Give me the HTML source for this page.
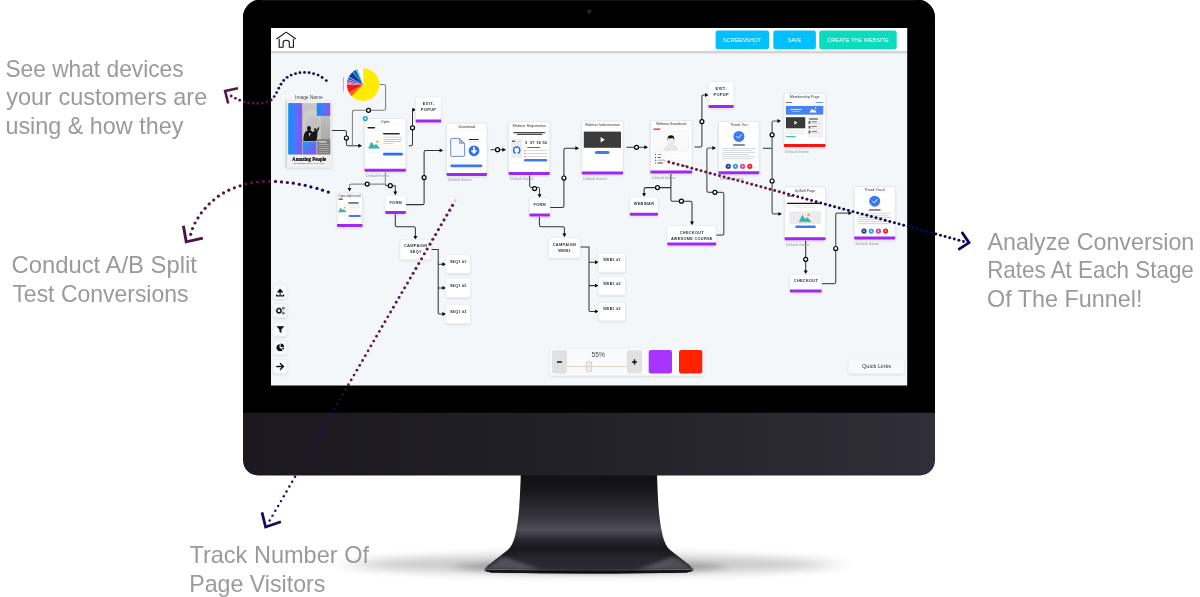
<!DOCTYPE html>
<html lang="en"><head><meta charset="utf-8"><title>Funnel builder</title>
<style>html,body{margin:0;padding:0;background:#fff}body{width:1200px;height:597px;overflow:hidden}svg{display:block;will-change:transform}text{font-family:'Liberation Sans', sans-serif;}</style>
</head><body>
<svg width="1200" height="597" viewBox="0 0 1200 597">
<defs>
<filter id="cs" x="-20%" y="-20%" width="140%" height="140%"><feGaussianBlur in="SourceAlpha" stdDeviation="0.9"/><feOffset dy="0.5"/><feComponentTransfer><feFuncA type="linear" slope="0.13"/></feComponentTransfer><feMerge><feMergeNode/><feMergeNode in="SourceGraphic"/></feMerge></filter>
<filter id="blur8" x="-20%" y="-200%" width="140%" height="500%"><feGaussianBlur stdDeviation="16 4.2"/></filter>
<filter id="blur3" x="-20%" y="-200%" width="140%" height="500%"><feGaussianBlur stdDeviation="7 2.4"/></filter>
<filter id="soft" x="-30%" y="-60%" width="160%" height="220%"><feGaussianBlur stdDeviation="3.2 1.6"/></filter>
<linearGradient id="chin" x1="0" y1="0" x2="1" y2="0"><stop offset="0" stop-color="#1b191f"/><stop offset="0.45" stop-color="#222027"/><stop offset="1" stop-color="#302e36"/></linearGradient>
<linearGradient id="neck" x1="0" y1="0" x2="0" y2="1"><stop offset="0" stop-color="#121016"/><stop offset="0.16" stop-color="#17151c"/><stop offset="0.45" stop-color="#37353d"/><stop offset="0.56" stop-color="#514f57"/><stop offset="0.66" stop-color="#2a2830"/><stop offset="0.74" stop-color="#1a181f"/><stop offset="0.85" stop-color="#28262d"/><stop offset="1" stop-color="#2f2d34"/></linearGradient>
<linearGradient id="neckx" x1="0" y1="0" x2="1" y2="0"><stop offset="0" stop-color="#000" stop-opacity="0.35"/><stop offset="0.18" stop-color="#000" stop-opacity="0"/><stop offset="0.82" stop-color="#000" stop-opacity="0"/><stop offset="1" stop-color="#000" stop-opacity="0.35"/></linearGradient>
<linearGradient id="rim" x1="0" y1="0" x2="1" y2="0"><stop offset="0" stop-color="#7a7880"/><stop offset="0.25" stop-color="#4e4c53"/><stop offset="0.5" stop-color="#39373d"/><stop offset="0.75" stop-color="#4e4c53"/><stop offset="1" stop-color="#7a7880"/></linearGradient>
<linearGradient id="sheenL" x1="0" y1="0" x2="1" y2="0"><stop offset="0" stop-color="#6a686f" stop-opacity="0.55"/><stop offset="1" stop-color="#6a686f" stop-opacity="0"/></linearGradient>
<linearGradient id="sheenR" x1="1" y1="0" x2="0" y2="0"><stop offset="0" stop-color="#6a686f" stop-opacity="0.55"/><stop offset="1" stop-color="#6a686f" stop-opacity="0"/></linearGradient>
<linearGradient id="bp" x1="0" y1="0" x2="1" y2="0"><stop offset="0" stop-color="#0a90ff"/><stop offset="0.5" stop-color="#4b78fb"/><stop offset="1" stop-color="#8f4ff6"/></linearGradient>
<linearGradient id="bp2" x1="0" y1="0" x2="1" y2="1"><stop offset="0" stop-color="#12a0ff"/><stop offset="1" stop-color="#9a45f5"/></linearGradient>
<linearGradient id="photo" x1="0" y1="0" x2="0" y2="1"><stop offset="0" stop-color="#c9c9c9"/><stop offset="1" stop-color="#9f9f9f"/></linearGradient>
<clipPath id="scr"><rect x="271" y="28" width="636.2" height="357.5"/></clipPath>
</defs>
<ellipse cx="592" cy="564.5" rx="240" ry="10" fill="#000" opacity="0.2" filter="url(#blur8)"/>
<ellipse cx="590" cy="567" rx="135" ry="6.5" fill="#000" opacity="0.2" filter="url(#blur3)"/>
<path d="M520.8 474 C520.3 490 519.8 500 519.2 508 C518.4 518 517 528 515.1 535.7 C513.6 541.6 511.6 546.6 507.7 550 L485.4 567.6 Q483 569.5 485.4 571 L491 572.5 Q540 573.5 588.9 573.5 Q637.8 573.5 686.8 572.5 L692.4 571 Q694.8 569.5 692.4 567.6 L670.1 550 C666.2 546.6 664.2 541.6 662.7 535.7 C660.8 528 659.4 518 658.6 508 C658 500 657.5 490 657 474 Z" fill="url(#neck)"/>
<path d="M520.8 474 C520.3 490 519.8 500 519.2 508 C518.4 518 517 528 515.1 535.7 C513.6 541.6 511.6 546.6 507.7 550 L485.4 567.6 Q483 569.5 485.4 571 L491 572.5 Q540 573.5 588.9 573.5 Q637.8 573.5 686.8 572.5 L692.4 571 Q694.8 569.5 692.4 567.6 L670.1 550 C666.2 546.6 664.2 541.6 662.7 535.7 C660.8 528 659.4 518 658.6 508 C658 500 657.5 490 657 474 Z" fill="url(#neckx)"/>
<path d="M484.6 569.6 Q540 570.4 588.9 570.4 Q637.8 570.4 693.2 569.6 Q694.2 570.4 692.4 571 L686.8 572.5 Q637.8 573.5 588.9 573.5 Q540 573.5 491 572.5 L485.4 571 Q483.6 570.4 484.6 569.6 Z" fill="#0f0e12"/>
<path d="M484.4 569.3 Q540 570 588.9 570 Q637.8 570 693.4 569.3" fill="none" stroke="url(#rim)" stroke-width="0.9"/>
<path d="M487 566.6 L484.6 568.6 Q483.4 569.6 484.8 570.6" fill="none" stroke="#c9c8cd" stroke-width="0.8" stroke-linecap="round"/>
<path d="M690.8 566.6 L693.2 568.6 Q694.4 569.6 693 570.6" fill="none" stroke="#c9c8cd" stroke-width="0.8" stroke-linecap="round"/>
<clipPath id="standclip"><path d="M520.8 474 C520.3 490 519.8 500 519.2 508 C518.4 518 517 528 515.1 535.7 C513.6 541.6 511.6 546.6 507.7 550 L485.4 567.6 Q483 569.5 485.4 571 L491 572.5 Q540 573.5 588.9 573.5 Q637.8 573.5 686.8 572.5 L692.4 571 Q694.8 569.5 692.4 567.6 L670.1 550 C666.2 546.6 664.2 541.6 662.7 535.7 C660.8 528 659.4 518 658.6 508 C658 500 657.5 490 657 474 Z"/></clipPath>
<g clip-path="url(#standclip)"><g filter="url(#soft)">
<path d="M503 556 L484 569 L540 569.6 Z" fill="#77757c" opacity="0.55"/>
<path d="M674.8 556 L693.8 569 L637.8 569.6 Z" fill="#77757c" opacity="0.55"/>
</g></g>
<path d="M243 17.5 A18 18 0 0 1 261 -0.5 H917 A18 18 0 0 1 935 17.5 V460.4 A15 15 0 0 1 920 475.4 H258 A15 15 0 0 1 243 460.4 Z" fill="url(#chin)"/>
<path d="M243 17.5 A18 18 0 0 1 261 -0.5 H917 A18 18 0 0 1 935 17.5 V412.8 H243 Z" fill="#000"/>
<path d="M262 0.4 H916" stroke="#161616" stroke-width="1"/>
<circle cx="589.3" cy="11.5" r="2.4" fill="#1a1c20"/><circle cx="589.3" cy="11.5" r="1.1" fill="#1d2f8a"/>
<rect x="271" y="28" width="636.2" height="357.5" rx="0" fill="#f3f7fa" />
<g clip-path="url(#scr)">
<rect x="271" y="28" width="636.2" height="23.4" rx="0" fill="#fff" />
<rect x="271" y="51.4" width="636.2" height="1.3" rx="0" fill="#b8bdc1" />
<rect x="271" y="52.7" width="636.2" height="0.9" rx="0" fill="#dde1e5" />
<path d="M276.9 38.8 L286.2 32.1 L295.5 38.8" fill="none" stroke="#111" stroke-width="1.1" stroke-linecap="round" stroke-linejoin="round"/>
<path d="M279.2 39.4 V47.2 H283.1 V42.6 Q283.1 40.3 286.2 40.3 Q289.3 40.3 289.3 42.6 V47.2 H293.4 V39.4" fill="none" stroke="#111" stroke-width="1.1" stroke-linejoin="round" stroke-linecap="round"/>
<rect x="715.6" y="30.5" width="53.5" height="18.8" rx="2.4" fill="#02bffe" />
<rect x="773.3" y="30.5" width="42.6" height="18.8" rx="2.4" fill="#02bffe" />
<rect x="819.2" y="30.5" width="77.5" height="18.8" rx="2.4" fill="#0bdcbd" />
<text x="742.2" y="41.9" font-size="5.3" fill="#fff" text-anchor="middle" font-weight="normal" textLength="38.4" lengthAdjust="spacingAndGlyphs" >SCREENSHOT</text>
<text x="794.6" y="41.9" font-size="5.3" fill="#fff" text-anchor="middle" font-weight="normal" textLength="13.2" lengthAdjust="spacingAndGlyphs" >SAVE</text>
<text x="858" y="41.9" font-size="5.3" fill="#fff" text-anchor="middle" font-weight="normal" textLength="61.5" lengthAdjust="spacingAndGlyphs" >CREATE THE WEBSITE</text>
<path d="M331.3 130.4L344.7 130.4Q346.4 130.4 346.4 132.1L346.4 144.1Q346.4 145.8 348.1 145.8L359 145.8" fill="none" stroke="#333" stroke-width="1.05" stroke-linejoin="round"/>
<path d="M379.5 84.5L383.9 84.5Q385.6 84.5 385.6 86.2L385.6 108.6Q385.6 110.3 383.9 110.3L354.1 110.3Q352.4 110.3 352.4 112L352.4 145.8" fill="none" stroke="#7d7d7d" stroke-width="1.05" stroke-linejoin="round"/>
<path d="M408.8 145.7L410.8 145.7Q412.5 145.7 412.5 144L412.5 110.45Q412.5 109.7 413.25 109.7L414 109.7" fill="none" stroke="#333" stroke-width="1.05" stroke-linejoin="round"/>
<path d="M385.3 172L385.3 182.4Q385.3 184.1 383.6 184.1L351.2 184.1Q349.5 184.1 349.5 185.8L349.5 189" fill="none" stroke="#8a8a8a" stroke-width="1.05" stroke-linejoin="round"/>
<path d="M385.3 184.1 Q385.3 185.7 387 185.7 H395.3 V192" fill="none" stroke="#333" stroke-width="1.05" stroke-linejoin="round"/>
<path d="M405.8 204.6L422.4 204.6Q424.1 204.6 424.1 202.9L424.1 152.1Q424.1 150.4 425.8 150.4L440 150.4" fill="none" stroke="#333" stroke-width="1.05" stroke-linejoin="round"/>
<path d="M395.3 214L395.3 225.1Q395.3 226.8 397 226.8L413.7 226.8Q415.4 226.8 415.4 228.5L415.4 237.5" fill="none" stroke="#333" stroke-width="1.05" stroke-linejoin="round"/>
<path d="M431.2 249.5 H438.2 V312.8 Q438.2 314 439.4 314 H443 M438.2 264.2 H443 M438.2 287.9 H443" fill="none" stroke="#333" stroke-width="1.05" stroke-linejoin="round"/>
<path d="M490.5 149.7L503 149.7" fill="none" stroke="#333" stroke-width="1.05" stroke-linejoin="round"/>
<path d="M529.7 175 V186.2 Q529.7 187.4 531 187.4 H538.4 Q539.6 187.4 539.6 188.6 V196" fill="none" stroke="#333" stroke-width="1.0" stroke-linejoin="round"/>
<path d="M549.8 207.5L562.2 207.5Q563.9 207.5 563.9 205.8L563.9 149.9Q563.9 148.2 565.6 148.2L576 148.2" fill="none" stroke="#333" stroke-width="1.05" stroke-linejoin="round"/>
<path d="M539.4 216.5L539.4 225.1Q539.4 226.8 541.1 226.8L562.7 226.8Q564.4 226.8 564.4 228.5L564.4 235" fill="none" stroke="#333" stroke-width="1.05" stroke-linejoin="round"/>
<path d="M580.2 247 H589 V310.2 Q589 311.4 590.2 311.4 H596 M589 262.2 H596 M589 285.6 H596" fill="none" stroke="#333" stroke-width="1.05" stroke-linejoin="round"/>
<path d="M626.4 147.3L645 147.3" fill="none" stroke="#333" stroke-width="1.05" stroke-linejoin="round"/>
<path d="M694.6 146.9L700.2 146.9Q701.9 146.9 701.9 145.2L701.9 96.7Q701.9 95 703.6 95L706 95" fill="none" stroke="#333" stroke-width="1.05" stroke-linejoin="round"/>
<path d="M670.9 173.6L670.9 199.5Q670.9 201.2 672.6 201.2L690.3 201.2Q692 201.2 692 202.9L692 223" fill="none" stroke="#333" stroke-width="1.05" stroke-linejoin="round"/>
<path d="M670.9 187.6L645.8 187.6Q644.1 187.6 644.1 189.3L644.1 194.5" fill="none" stroke="#333" stroke-width="1.05" stroke-linejoin="round"/>
<path d="M716.1 235.2L722.1 235.2Q723.8 235.2 723.8 233.5L723.8 194Q723.8 192.3 722.1 192.3L708.6 192.3Q706.9 192.3 706.9 190.6L706.9 149.7Q706.9 148 708.6 148L713 148" fill="none" stroke="#565656" stroke-width="1.2" stroke-linejoin="round"/>
<path d="M763 148.4L772.1 148.4M778 121L773.8 121Q772.1 121 772.1 122.7L772.1 212.2Q772.1 213.9 773.8 213.9L779 213.9" fill="none" stroke="#565656" stroke-width="1.2" stroke-linejoin="round"/>
<path d="M805.7 240.3L805.7 271.5" fill="none" stroke="#333" stroke-width="1.05" stroke-linejoin="round"/>
<path d="M821.6 283.7L834 283.7Q835.7 283.7 835.7 282L835.7 214.8Q835.7 213.1 837.4 213.1L849 213.1" fill="none" stroke="#565656" stroke-width="1.2" stroke-linejoin="round"/>
<polygon points="362,145.8 358.4,143.87 358.4,147.73" fill="#000"/>
<polygon points="416,109.7 412.4,107.77 412.4,111.63" fill="#000"/>
<polygon points="349.5,191.6 347.57,188 351.43,188" fill="#000"/>
<polygon points="395.3,195.2 393.37,191.6 397.23,191.6" fill="#000"/>
<polygon points="443.2,150.4 439.6,148.47 439.6,152.33" fill="#000"/>
<polygon points="415.4,239.6 413.47,236 417.33,236" fill="#000"/>
<polygon points="446,264.2 442.4,262.27 442.4,266.13" fill="#000"/>
<polygon points="446,287.9 442.4,285.97 442.4,289.83" fill="#000"/>
<polygon points="446,314 442.4,312.07 442.4,315.93" fill="#000"/>
<polygon points="506,149.7 502.4,147.77 502.4,151.63" fill="#000"/>
<polygon points="539.6,197.8 537.67,194.2 541.53,194.2" fill="#000"/>
<polygon points="579,148.2 575.4,146.27 575.4,150.13" fill="#000"/>
<polygon points="564.4,237.2 562.47,233.6 566.33,233.6" fill="#000"/>
<polygon points="598.6,262.2 595,260.27 595,264.13" fill="#000"/>
<polygon points="598.6,285.6 595,283.67 595,287.53" fill="#000"/>
<polygon points="598.6,311.4 595,309.47 595,313.33" fill="#000"/>
<polygon points="648,147.3 644.4,145.37 644.4,149.23" fill="#000"/>
<polygon points="708.6,95 705,93.07 705,96.93" fill="#000"/>
<polygon points="644.1,196.8 642.17,193.2 646.03,193.2" fill="#000"/>
<polygon points="692,225.2 690.07,221.6 693.93,221.6" fill="#000"/>
<polygon points="716,148 712.4,146.07 712.4,149.93" fill="#000"/>
<polygon points="781,121 777.4,119.07 777.4,122.93" fill="#000"/>
<polygon points="782,213.9 778.4,211.97 778.4,215.83" fill="#000"/>
<polygon points="805.7,274 803.77,270.4 807.63,270.4" fill="#000"/>
<polygon points="852,213.1 848.4,211.17 848.4,215.03" fill="#000"/>
<circle cx="346.4" cy="138" r="2" fill="#fff" stroke="#000" stroke-width="1.2"/>
<circle cx="368.5" cy="110.3" r="2" fill="#fff" stroke="#000" stroke-width="1.2"/>
<circle cx="412.5" cy="127.8" r="2" fill="#fff" stroke="#000" stroke-width="1.2"/>
<circle cx="367.2" cy="184.1" r="2" fill="#fff" stroke="#000" stroke-width="1.2"/>
<circle cx="390.3" cy="185.7" r="2" fill="#fff" stroke="#000" stroke-width="1.2"/>
<circle cx="424.1" cy="177.6" r="2" fill="#fff" stroke="#000" stroke-width="1.2"/>
<circle cx="497.5" cy="149.7" r="2" fill="#fff" stroke="#000" stroke-width="1.2"/>
<circle cx="534.6" cy="188.6" r="2" fill="#fff" stroke="#000" stroke-width="1.2"/>
<circle cx="563.9" cy="178" r="2" fill="#fff" stroke="#000" stroke-width="1.2"/>
<circle cx="636.5" cy="147.3" r="2" fill="#fff" stroke="#000" stroke-width="1.2"/>
<circle cx="701.9" cy="121.6" r="2" fill="#fff" stroke="#000" stroke-width="1.2"/>
<circle cx="657.5" cy="187.6" r="2" fill="#fff" stroke="#000" stroke-width="1.2"/>
<circle cx="681.4" cy="201.2" r="2" fill="#fff" stroke="#000" stroke-width="1.2"/>
<circle cx="714.9" cy="192.3" r="2" fill="#fff" stroke="#000" stroke-width="1.2"/>
<circle cx="772.1" cy="134.8" r="2" fill="#fff" stroke="#000" stroke-width="1.2"/>
<circle cx="772.1" cy="181" r="2" fill="#fff" stroke="#000" stroke-width="1.2"/>
<circle cx="805.7" cy="259.3" r="2" fill="#fff" stroke="#000" stroke-width="1.2"/>
<circle cx="835.7" cy="248.5" r="2" fill="#fff" stroke="#000" stroke-width="1.2"/>
<path d="M363.1 84.6L363.1 68.3A16.3 16.3 0 1 1 351.57 96.13Z" fill="#ffec00"/>
<path d="M363.1 84.6L351.57 96.13A16.3 16.3 0 0 1 348.84 92.5Z" fill="#ff6d08"/>
<path d="M363.1 84.6L348.84 92.5A16.3 16.3 0 0 1 346.8 84.32Z" fill="#f5151f"/>
<path d="M363.1 84.6L346.8 84.32A16.3 16.3 0 0 1 346.84 83.46Z" fill="#ffd9e0"/>
<path d="M363.1 84.6L346.84 83.46A16.3 16.3 0 0 1 347 82.05Z" fill="#e93aa2"/>
<path d="M363.1 84.6L347 82.05A16.3 16.3 0 0 1 347.1 81.49Z" fill="#f3d7ef"/>
<path d="M363.1 84.6L347.1 81.49A16.3 16.3 0 0 1 347.51 79.83Z" fill="#6b39b4"/>
<path d="M363.1 84.6L347.51 79.83A16.3 16.3 0 0 1 347.69 79.29Z" fill="#dfe3f5"/>
<path d="M363.1 84.6L347.69 79.29A16.3 16.3 0 0 1 348.58 77.2Z" fill="#1d4fc0"/>
<path d="M363.1 84.6L348.58 77.2A16.3 16.3 0 0 1 348.78 76.82Z" fill="#dfe6f7"/>
<path d="M363.1 84.6L348.78 76.82A16.3 16.3 0 0 1 352.73 72.02Z" fill="#0a3c9f"/>
<path d="M363.1 84.6L352.73 72.02A16.3 16.3 0 0 1 353.06 71.76Z" fill="#d5e0f5"/>
<path d="M363.1 84.6L353.06 71.76A16.3 16.3 0 0 1 355.7 70.08Z" fill="#0f55b6"/>
<path d="M363.1 84.6L355.7 70.08A16.3 16.3 0 0 1 357.53 69.28Z" fill="#35cbd6"/>
<path d="M363.1 84.6L357.53 69.28A16.3 16.3 0 0 1 363.1 68.3Z" fill="#fcfdfd"/>
<text x="0" y="0" font-size="2.5" fill="#444" text-anchor="middle" font-weight="normal" textLength="15" lengthAdjust="spacingAndGlyphs" transform="translate(344.1 84.7) rotate(-90)">Access graph</text>
<text x="308.9" y="99" font-size="5" fill="#444" text-anchor="middle" font-weight="normal" textLength="27.6" lengthAdjust="spacingAndGlyphs" >Image Name</text>
<rect x="285.6" y="100.2" width="46" height="67.4" fill="#f1f1f1" stroke="#e4e6e9" stroke-width="0.4" filter="url(#cs)"/>
<rect x="285.9" y="100.4" width="0.7" height="67" rx="0" fill="#b9b9bb" />
<rect x="288.3" y="103.1" width="41.9" height="51.3" rx="0" fill="url(#photo)" />
<path d="M302.3 154.4 V118.6 A9.3 9.3 0 0 1 320.9 118.6 V154.4 Z" fill="#d2d2d2" opacity="0.75"/>
<path d="M305.5 154.4 V124 A7.5 7.5 0 0 1 320.5 124 V154.4 Z" fill="#bcbcbc" opacity="0.55"/>
<rect x="288.3" y="103.1" width="13.8" height="51.3" rx="0" fill="url(#bp)" />
<rect x="316.8" y="103.1" width="13.4" height="12.8" rx="0" fill="url(#bp)" />
<rect x="302.8" y="141.6" width="13.5" height="12.8" rx="0" fill="url(#bp2)" />
<rect x="317.3" y="139.2" width="12.9" height="15.2" rx="0" fill="#7e7e7e" />
<rect x="318.6" y="141.35" width="7.9" height="1.1" rx="0.55" fill="#e6e6e6"/>
<rect x="318.6" y="144.3" width="10.4" height="0.6" rx="0.3" fill="#b9b9b9"/>
<rect x="318.6" y="146.2" width="10.4" height="0.6" rx="0.3" fill="#b9b9b9"/>
<rect x="318.6" y="148.1" width="10.4" height="0.6" rx="0.3" fill="#b9b9b9"/>
<rect x="318.6" y="150" width="10.4" height="0.6" rx="0.3" fill="#b9b9b9"/>
<rect x="318.6" y="151.9" width="10.4" height="0.6" rx="0.3" fill="#b9b9b9"/>
<path d="M303.3 140.9 C303.4 137 303.8 134 305.2 132.2 C306 131.2 307 130.8 307.8 130.6 C307 129.4 306.8 127.6 307.6 126.6 C308.4 125.7 309.8 125.8 310.5 126.8 C311.2 127.9 311 129.6 310.2 130.6 C311.2 130.8 312.2 131.4 313 132.2 C313.8 131.2 314.9 130.9 315.7 131.2 L318.3 127.4 C318.7 126.8 319.6 127.4 319.3 128 L317.3 132.6 C317.6 135 317 138.4 316.4 140.9 Z" fill="#161616"/>
<circle cx="315.2" cy="129.6" r="1.25" fill="#161616"/>
<path d="M308.6 133 L309.6 137 L310.6 133 Z" fill="#cfcfcf"/>
<text x="309.2" y="160.8" font-size="5.7" fill="#0c0c0c" text-anchor="middle" font-weight="bold" textLength="34.2" lengthAdjust="spacingAndGlyphs" style="font-family:'Liberation Serif', serif" stroke="#0c0c0c" stroke-width="0.22">Amazing People</text>
<text x="309.2" y="164.4" font-size="1.9" fill="#444" text-anchor="middle" font-weight="normal" textLength="30.5" lengthAdjust="spacingAndGlyphs" >the amazing people of our time</text>
<rect x="364.6" y="118.4" width="41.3" height="53.3" rx="1.6" fill="#fff" stroke="#dde1e7" stroke-width="0.7" filter="url(#cs)"/>
<path d="M364.6 168.7H405.9V170.5Q405.9 171.7 404.7 171.7H365.8Q364.6 171.7 364.6 170.5Z" fill="#a127f2"/>
<text x="385.25" y="123.2" font-size="3.7" fill="#333" text-anchor="middle" font-weight="normal" >Optin</text>
<path d="M365.1 124.6H405.4" stroke="#eceff3" stroke-width="0.4"/>
<text x="366" y="177.1" font-size="3.8" fill="#90949a" text-anchor="start" font-weight="normal" >Default theme</text>
<circle cx="365.3" cy="118.6" r="1.8" fill="#fff" stroke="#18a4f2" stroke-width="1.5"/>
<rect x="367.4" y="127" width="7.8" height="1.4" rx="0.7" fill="#222"/>
<rect x="367.6" y="136.1" width="13" height="16.5" rx="1" fill="#fff" stroke="#e3e6ea" stroke-width="0.4"/>
<path d="M368.51 148.24L371.53 142.07L374.1 146.09L376.11 144.22L379.69 148.24Z" fill="#35b3a0" stroke="#35b3a0" stroke-width="0.5" stroke-linejoin="round"/>
<circle cx="377.45" cy="141.67" r="1.29" fill="#f8a927"/>
<rect x="383" y="133.05" width="16.9" height="1.5" rx="0.75" fill="#2a2a2a"/>
<rect x="383.2" y="136.8" width="19.2" height="0.8" rx="0.4" fill="#c3c7cc"/>
<rect x="383.2" y="139.1" width="19" height="0.8" rx="0.4" fill="#c3c7cc"/>
<rect x="383.2" y="141.1" width="17.8" height="0.8" rx="0.4" fill="#c3c7cc"/>
<rect x="383.2" y="143.2" width="10.3" height="0.8" rx="0.4" fill="#c3c7cc"/>
<rect x="383.2" y="145.8" width="19.5" height="2.6" rx="0.6" fill="#fff" stroke="#dfe2e6" stroke-width="0.35"/>
<rect x="383.2" y="149.2" width="19.5" height="2.4" rx="0.6" fill="#fff" stroke="#dfe2e6" stroke-width="0.35"/>
<rect x="383" y="152.7" width="19.9" height="2.9" rx="1.45" fill="#2f6ef5" />
<rect x="337" y="193" width="25.5" height="33.9" rx="1.6" fill="#fff" stroke="#dde1e7" stroke-width="0.7" filter="url(#cs)"/>
<path d="M337 224.1H362.5V225.7Q362.5 226.9 361.3 226.9H338.2Q337 226.9 337 225.7Z" fill="#a127f2"/>
<text x="349.8" y="196.5" font-size="3.1" fill="#333" text-anchor="middle" font-weight="normal" textLength="23" lengthAdjust="spacingAndGlyphs" >Optin-Split test-0</text>
<rect x="338.3" y="198.4" width="4.8" height="1.4" rx="0.7" fill="#4a4a4a"/>
<rect x="338.3" y="205.1" width="8.2" height="8.6" rx="1" fill="#fff" stroke="#e3e6ea" stroke-width="0.4"/>
<path d="M338.71 211.97L340.7 207.89L342.4 210.55L343.73 209.31L346.09 211.97Z" fill="#35b3a0" stroke="#35b3a0" stroke-width="0.5" stroke-linejoin="round"/>
<circle cx="344.61" cy="207.63" r="0.85" fill="#f8a927"/>
<rect x="348.1" y="202.2" width="10.7" height="1.6" rx="0.8" fill="#5a5a5a"/>
<rect x="348.5" y="205.15" width="12.5" height="0.5" rx="0.25" fill="#d4d7db"/>
<rect x="348.5" y="206.95" width="11.5" height="0.5" rx="0.25" fill="#d4d7db"/>
<rect x="348.5" y="208.75" width="9.5" height="0.5" rx="0.25" fill="#d4d7db"/>
<rect x="348.5" y="211" width="12.5" height="2.2" rx="0.5" fill="#fff" stroke="#e1e4e8" stroke-width="0.3"/>
<rect x="348.5" y="214.9" width="12.5" height="2" rx="1" fill="#3d7bf5" />
<rect x="415.7" y="97" width="25.5" height="25.6" rx="1.6" fill="#fff" stroke="#e6eaf0" stroke-width="0.6" filter="url(#cs)"/>
<path d="M415.7 119.6H441.2V121.4Q441.2 122.6 440 122.6H416.9Q415.7 122.6 415.7 121.4Z" fill="#a127f2"/>
<text x="428.6" y="105.4" font-size="3.99" fill="#2d3344" text-anchor="middle" font-weight="bold" letter-spacing="0.3">EXIT-</text>
<text x="428.6" y="111.1" font-size="3.99" fill="#2d3344" text-anchor="middle" font-weight="bold" letter-spacing="0.3">POPUP</text>
<rect x="385.3" y="195.6" width="20.5" height="18.3" rx="1.6" fill="#fff" stroke="#e6eaf0" stroke-width="0.6" filter="url(#cs)"/>
<path d="M385.3 210.9H405.8V212.7Q405.8 213.9 404.6 213.9H386.5Q385.3 213.9 385.3 212.7Z" fill="#a127f2"/>
<text x="395.7" y="203.53" font-size="3.85" fill="#2d3344" text-anchor="middle" font-weight="bold" letter-spacing="0.3">FORM</text>
<rect x="400" y="239.7" width="31.2" height="19.9" rx="1.6" fill="#fff" stroke="#e6eaf0" stroke-width="0.6" filter="url(#cs)"/>
<text x="415.75" y="247.4" font-size="3.95" fill="#2d3344" text-anchor="middle" font-weight="bold" letter-spacing="0.3">CAMPAIGN</text>
<text x="415.75" y="253.4" font-size="3.95" fill="#2d3344" text-anchor="middle" font-weight="bold" letter-spacing="0.3">SEQ1</text>
<rect x="445.8" y="254.5" width="24.6" height="18.7" rx="1.6" fill="#fff" stroke="#e6eaf0" stroke-width="0.6" filter="url(#cs)"/>
<text x="458.25" y="262.8" font-size="3.62" fill="#2d3344" text-anchor="middle" font-weight="bold" letter-spacing="0.3">SEQ1 #1</text>
<rect x="445.8" y="278.2" width="24.6" height="19.1" rx="1.6" fill="#fff" stroke="#e6eaf0" stroke-width="0.6" filter="url(#cs)"/>
<text x="458.25" y="286.6" font-size="3.62" fill="#2d3344" text-anchor="middle" font-weight="bold" letter-spacing="0.3">SEQ1 #2</text>
<rect x="445.8" y="304.4" width="24.6" height="19.1" rx="1.6" fill="#fff" stroke="#e6eaf0" stroke-width="0.6" filter="url(#cs)"/>
<text x="458.25" y="313.1" font-size="3.62" fill="#2d3344" text-anchor="middle" font-weight="bold" letter-spacing="0.3">SEQ1 #3</text>
<rect x="446.6" y="123.2" width="40.4" height="52.8" rx="1.6" fill="#fff" stroke="#dde1e7" stroke-width="0.7" filter="url(#cs)"/>
<path d="M446.6 173H487V174.8Q487 176 485.8 176H447.8Q446.6 176 446.6 174.8Z" fill="#a127f2"/>
<text x="466.8" y="128" font-size="3.7" fill="#333" text-anchor="middle" font-weight="normal" >Download</text>
<path d="M447.1 129.4H486.5" stroke="#eceff3" stroke-width="0.4"/>
<text x="448" y="181.4" font-size="3.8" fill="#90949a" text-anchor="start" font-weight="normal" >Default theme</text>
<path d="M451.6 138.4 H459.4 L464.6 143.4 V155.4 Q464.6 156.4 463.6 156.4 H451.6 Q450.7 156.4 450.7 155.4 V139.4 Q450.7 138.4 451.6 138.4 Z" fill="#f8f9fe" stroke="#5b74d2" stroke-width="0.85" stroke-linejoin="round"/>
<path d="M459.4 138.4 V143.4 H464.6 Z" fill="#aab6e6" stroke="#5f74c9" stroke-width="0.5" stroke-linejoin="round"/>
<rect x="468.7" y="139" width="10.1" height="1" rx="0.5" fill="#2a2a2a"/>
<rect x="468.7" y="141.75" width="12.8" height="0.5" rx="0.25" fill="#cfd3d8"/>
<circle cx="474" cy="150.8" r="5.4" fill="#2f6ff2"/>
<path d="M474 147.6 V151.6" fill="none" stroke="#fff" stroke-width="1.7" stroke-linecap="round"/><path d="M471.1 150.6 H476.9 L474 154 Z" fill="#fff" stroke="#fff" stroke-width="0.5" stroke-linejoin="round"/>
<rect x="450.3" y="160" width="32.1" height="2.8" rx="0.8" fill="#fff" stroke="#e3e6ea" stroke-width="0.35"/>
<rect x="450.3" y="164.4" width="32.1" height="2.8" rx="1.4" fill="#3b76f3" />
<rect x="508.6" y="121.7" width="41.2" height="53.3" rx="1.6" fill="#fff" stroke="#dde1e7" stroke-width="0.7" filter="url(#cs)"/>
<path d="M508.6 172H549.8V173.8Q549.8 175 548.6 175H509.8Q508.6 175 508.6 173.8Z" fill="#a127f2"/>
<text x="529.2" y="126.5" font-size="3.6" fill="#333" text-anchor="middle" font-weight="normal" >Webinar Registration</text>
<path d="M509.1 127.9H549.3" stroke="#eceff3" stroke-width="0.4"/>
<text x="510" y="180.4" font-size="3.8" fill="#90949a" text-anchor="start" font-weight="normal" >Default theme</text>
<rect x="513.4" y="132.05" width="31.8" height="1.3" rx="0.65" fill="#444"/>
<rect x="517" y="133.8" width="25.2" height="1.2" rx="0.6" fill="#4a4a4a"/>
<rect x="511" y="139.6" width="11" height="18.7" rx="0.8" fill="#ebedf0" />
<rect x="512" y="140.6" width="3" height="1.4" rx="0.3" fill="#e8242a" />
<rect x="516" y="141.05" width="4.5" height="0.5" rx="0.25" fill="#c8ccd1"/>
<circle cx="516.7" cy="150.2" r="3.1" fill="#fff" stroke="#2f6ff2" stroke-width="1.5"/>
<rect x="515.6" y="152.4" width="2.2" height="1.8" rx="0" fill="#fff" />
<text x="526.1" y="143.5" font-size="4" fill="#333" text-anchor="middle" font-weight="bold" >3</text>
<text x="532.35" y="143.5" font-size="4" fill="#333" text-anchor="middle" font-weight="bold" >07</text>
<text x="538.6" y="143.5" font-size="4" fill="#333" text-anchor="middle" font-weight="bold" >18</text>
<text x="544.85" y="143.5" font-size="4" fill="#333" text-anchor="middle" font-weight="bold" >52</text>
<rect x="527" y="147.15" width="13" height="0.9" rx="0.45" fill="#333"/>
<rect x="524.4" y="150.25" width="1.4" height="0.9" rx="0.45" fill="#e8242a"/>
<rect x="527.2" y="150.27" width="19.8" height="0.85" rx="0.42" fill="#cbced2"/>
<rect x="524.4" y="153.05" width="1.4" height="0.9" rx="0.45" fill="#e8242a"/>
<rect x="527.2" y="153.07" width="19.8" height="0.85" rx="0.42" fill="#cbced2"/>
<rect x="524.4" y="155.85" width="1.4" height="0.9" rx="0.45" fill="#e8242a"/>
<rect x="527.2" y="155.88" width="19.8" height="0.85" rx="0.42" fill="#cbced2"/>
<rect x="524" y="159.1" width="23.2" height="2.5" rx="1.2" fill="#3d7bf5" />
<rect x="529.5" y="198.1" width="20.4" height="18.5" rx="1.6" fill="#fff" stroke="#e6eaf0" stroke-width="0.6" filter="url(#cs)"/>
<path d="M529.5 213.6H549.9V215.4Q549.9 216.6 548.7 216.6H530.7Q529.5 216.6 529.5 215.4Z" fill="#a127f2"/>
<text x="539.85" y="206.13" font-size="3.85" fill="#2d3344" text-anchor="middle" font-weight="bold" letter-spacing="0.3">FORM</text>
<rect x="548.5" y="237.6" width="31.7" height="20.4" rx="1.6" fill="#fff" stroke="#e6eaf0" stroke-width="0.6" filter="url(#cs)"/>
<text x="564.5" y="246" font-size="3.95" fill="#2d3344" text-anchor="middle" font-weight="bold" letter-spacing="0.3">CAMPAIGN</text>
<text x="564.5" y="251.9" font-size="3.95" fill="#2d3344" text-anchor="middle" font-weight="bold" letter-spacing="0.3">WEB1</text>
<rect x="598.4" y="252.8" width="27" height="19.2" rx="1.6" fill="#fff" stroke="#e6eaf0" stroke-width="0.6" filter="url(#cs)"/>
<text x="612.05" y="261.1" font-size="3.62" fill="#2d3344" text-anchor="middle" font-weight="bold" letter-spacing="0.3">WEB1 #1</text>
<rect x="598.4" y="276.7" width="27" height="18.3" rx="1.6" fill="#fff" stroke="#e6eaf0" stroke-width="0.6" filter="url(#cs)"/>
<text x="612.05" y="284.6" font-size="3.62" fill="#2d3344" text-anchor="middle" font-weight="bold" letter-spacing="0.3">WEB1 #2</text>
<rect x="598.4" y="302.5" width="27" height="18.3" rx="1.6" fill="#fff" stroke="#e6eaf0" stroke-width="0.6" filter="url(#cs)"/>
<text x="612.05" y="310.4" font-size="3.62" fill="#2d3344" text-anchor="middle" font-weight="bold" letter-spacing="0.3">WEB1 #3</text>
<rect x="581.8" y="121.1" width="41.2" height="53.3" rx="1.6" fill="#fff" stroke="#dde1e7" stroke-width="0.7" filter="url(#cs)"/>
<path d="M581.8 171.4H623V173.2Q623 174.4 621.8 174.4H583Q581.8 174.4 581.8 173.2Z" fill="#a127f2"/>
<text x="602.4" y="125.9" font-size="3.5" fill="#333" text-anchor="middle" font-weight="normal" >Webinar Indoctrination</text>
<path d="M582.3 127.3H622.5" stroke="#eceff3" stroke-width="0.4"/>
<text x="583.2" y="179.8" font-size="3.8" fill="#90949a" text-anchor="start" font-weight="normal" >Default theme</text>
<rect x="583.8" y="131.6" width="37.2" height="16.2" rx="0" fill="#3b3b3b" />
<path d="M600.6 136.9 V142.5 L604.8 139.7 Z" fill="#fff"/>
<rect x="594.9" y="150.9" width="14.6" height="3" rx="1.5" fill="#3d7bf5" />
<rect x="650.5" y="120.4" width="41.5" height="53.2" rx="1.6" fill="#fff" stroke="#dde1e7" stroke-width="0.7" filter="url(#cs)"/>
<path d="M650.5 170.6H692V172.4Q692 173.6 690.8 173.6H651.7Q650.5 173.6 650.5 172.4Z" fill="#a127f2"/>
<text x="671.25" y="125.2" font-size="3.6" fill="#333" text-anchor="middle" font-weight="normal" >Webinar Broadcast</text>
<path d="M651 126.6H691.5" stroke="#eceff3" stroke-width="0.4"/>
<text x="651.9" y="179" font-size="3.8" fill="#90949a" text-anchor="start" font-weight="normal" >Default theme</text>
<rect x="653.2" y="128.4" width="7.4" height="1.4" rx="0.7" fill="#f5222a"/>
<rect x="653.4" y="131.4" width="35.1" height="19" rx="0.6" fill="#fafafa" stroke="#e0e3e7" stroke-width="0.4"/>
<path d="M664.5 150.2 Q664.6 145.6 668.6 144.7 L669 143 H672.8 L673.2 144.7 Q677.2 145.6 677.3 150.2 Z" fill="#e9e9ea" stroke="#cfcfd2" stroke-width="0.3"/>
<ellipse cx="670.9" cy="140.6" rx="2.9" ry="3.4" fill="#f0eeee" stroke="#c8c8cc" stroke-width="0.3"/>
<path d="M667.6 140.4 Q667 135.4 670.9 135.3 Q674.9 135.4 674.2 140.4 Q673.6 138.3 672.6 137.9 Q670.4 138.8 668.6 138 Q667.9 138.8 667.6 140.4 Z" fill="#151515"/>
<rect x="653.4" y="152" width="35.1" height="14.6" rx="0.6" fill="#fff" stroke="#e6e8ec" stroke-width="0.35"/>
<circle cx="655.6" cy="154.6" r="0.6" fill="#333"/>
<rect x="657.4" y="154.2" width="4.6" height="0.8" rx="0.4" fill="#8a8a8a"/>
<rect x="663.2" y="154.4" width="20.8" height="0.4" rx="0.2" fill="#e1e3e7"/>
<circle cx="655.6" cy="157.4" r="0.6" fill="#333"/>
<rect x="657.4" y="157" width="3.6" height="0.8" rx="0.4" fill="#3a3a3a"/>
<rect x="662.2" y="157.2" width="21.8" height="0.4" rx="0.2" fill="#e1e3e7"/>
<circle cx="655.6" cy="160.2" r="0.6" fill="#333"/>
<rect x="657.4" y="159.8" width="7.1" height="0.8" rx="0.4" fill="#8a8a8a"/>
<rect x="665.7" y="160" width="18.3" height="0.4" rx="0.2" fill="#e1e3e7"/>
<circle cx="655.6" cy="163" r="0.6" fill="#333"/>
<rect x="657.4" y="162.6" width="5.6" height="0.8" rx="0.4" fill="#3a3a3a"/>
<rect x="664.2" y="162.8" width="19.8" height="0.4" rx="0.2" fill="#e1e3e7"/>
<rect x="683.5" y="165.2" width="4" height="1.4" rx="0.6" fill="#3d7bf5" />
<rect x="708.4" y="81.7" width="25.3" height="26.3" rx="1.6" fill="#fff" stroke="#e6eaf0" stroke-width="0.6" filter="url(#cs)"/>
<path d="M708.4 105H733.7V106.8Q733.7 108 732.5 108H709.6Q708.4 108 708.4 106.8Z" fill="#a127f2"/>
<text x="721.2" y="90.1" font-size="3.99" fill="#2d3344" text-anchor="middle" font-weight="bold" letter-spacing="0.3">EXIT-</text>
<text x="721.2" y="96" font-size="3.99" fill="#2d3344" text-anchor="middle" font-weight="bold" letter-spacing="0.3">POPUP</text>
<rect x="629.8" y="197" width="28.2" height="18.7" rx="1.6" fill="#fff" stroke="#e6eaf0" stroke-width="0.6" filter="url(#cs)"/>
<path d="M629.8 212.7H658V214.5Q658 215.7 656.8 215.7H631Q629.8 215.7 629.8 214.5Z" fill="#a127f2"/>
<text x="644.05" y="205.13" font-size="3.85" fill="#2d3344" text-anchor="middle" font-weight="bold" letter-spacing="0.3">WEBINAR</text>
<rect x="667.3" y="225.5" width="48.8" height="20" rx="1.6" fill="#fff" stroke="#e6eaf0" stroke-width="0.6" filter="url(#cs)"/>
<path d="M667.3 242.5H716.1V244.3Q716.1 245.5 714.9 245.5H668.5Q667.3 245.5 667.3 244.3Z" fill="#a127f2"/>
<text x="691.85" y="234" font-size="3.85" fill="#2d3344" text-anchor="middle" font-weight="bold" letter-spacing="0.3">CHECKOUT</text>
<text x="691.85" y="240.1" font-size="3.85" fill="#2d3344" text-anchor="middle" font-weight="bold" letter-spacing="0.3">AWESOME COURSE</text>
<rect x="718.5" y="121.6" width="40.8" height="52.7" rx="1.6" fill="#fff" stroke="#dde1e7" stroke-width="0.7" filter="url(#cs)"/>
<path d="M718.5 171.3H759.3V173.1Q759.3 174.3 758.1 174.3H719.7Q718.5 174.3 718.5 173.1Z" fill="#a127f2"/>
<text x="738.9" y="126.4" font-size="3.7" fill="#333" text-anchor="middle" font-weight="normal" >Thank You</text>
<path d="M719 127.8H758.8" stroke="#eceff3" stroke-width="0.4"/>
<text x="719.9" y="179.7" font-size="3.8" fill="#90949a" text-anchor="start" font-weight="normal" >Default theme</text>
<circle cx="738.9" cy="136.4" r="5.5" fill="#3b78f2"/>
<path d="M736.81 136.4L738.46 138.05L741.21 134.75" fill="none" stroke="#fff" stroke-width="1" stroke-linecap="round" stroke-linejoin="round"/>
<rect x="732.8" y="144.35" width="12.2" height="1.5" rx="0.75" fill="#6a6a6a"/>
<rect x="721.9" y="147.88" width="33.6" height="1.05" rx="0.53" fill="#d8d9db"/>
<rect x="721.9" y="149.96" width="30.9" height="1.05" rx="0.53" fill="#d8d9db"/>
<rect x="721.9" y="152.03" width="33.6" height="1.05" rx="0.53" fill="#d8d9db"/>
<rect x="721.9" y="154.12" width="27.4" height="1.05" rx="0.53" fill="#d8d9db"/>
<rect x="721.9" y="156.19" width="33.6" height="1.05" rx="0.53" fill="#d8d9db"/>
<rect x="721.9" y="158.28" width="31.9" height="1.05" rx="0.53" fill="#d8d9db"/>
<circle cx="728.2" cy="166.3" r="2.6" fill="#2b3f8f"/>
<circle cx="728.2" cy="166.3" r="0.78" fill="#fff"/>
<circle cx="735.4" cy="166.3" r="2.6" fill="#2aa3ef"/>
<circle cx="735.4" cy="166.3" r="0.78" fill="#fff"/>
<circle cx="742.6" cy="166.3" r="2.6" fill="#e83e9c"/>
<circle cx="742.6" cy="166.3" r="0.78" fill="#fff"/>
<circle cx="749.8" cy="166.3" r="2.6" fill="#e8242a"/>
<circle cx="749.8" cy="166.3" r="0.78" fill="#fff"/>
<rect x="854.2" y="186.4" width="41" height="53.2" rx="1.6" fill="#fff" stroke="#dde1e7" stroke-width="0.7" filter="url(#cs)"/>
<path d="M854.2 236.6H895.2V238.4Q895.2 239.6 894 239.6H855.4Q854.2 239.6 854.2 238.4Z" fill="#a127f2"/>
<text x="874.7" y="191.2" font-size="3.7" fill="#333" text-anchor="middle" font-weight="normal" >Thank You-0</text>
<path d="M854.7 192.6H894.7" stroke="#eceff3" stroke-width="0.4"/>
<text x="855.6" y="245" font-size="3.8" fill="#90949a" text-anchor="start" font-weight="normal" >Default theme</text>
<circle cx="874.7" cy="201.2" r="5.5" fill="#3b78f2"/>
<path d="M872.61 201.2L874.26 202.85L877.01 199.55" fill="none" stroke="#fff" stroke-width="1" stroke-linecap="round" stroke-linejoin="round"/>
<rect x="868.6" y="209.15" width="12.2" height="1.5" rx="0.75" fill="#6a6a6a"/>
<rect x="857.6" y="212.68" width="33.8" height="1.05" rx="0.53" fill="#d8d9db"/>
<rect x="857.6" y="214.76" width="31.1" height="1.05" rx="0.53" fill="#d8d9db"/>
<rect x="857.6" y="216.84" width="33.8" height="1.05" rx="0.53" fill="#d8d9db"/>
<rect x="857.6" y="218.92" width="27.6" height="1.05" rx="0.53" fill="#d8d9db"/>
<rect x="857.6" y="221" width="33.8" height="1.05" rx="0.53" fill="#d8d9db"/>
<rect x="857.6" y="223.08" width="32.1" height="1.05" rx="0.53" fill="#d8d9db"/>
<circle cx="864" cy="231.1" r="2.6" fill="#2b3f8f"/>
<circle cx="864" cy="231.1" r="0.78" fill="#fff"/>
<circle cx="871.2" cy="231.1" r="2.6" fill="#2aa3ef"/>
<circle cx="871.2" cy="231.1" r="0.78" fill="#fff"/>
<circle cx="878.4" cy="231.1" r="2.6" fill="#e83e9c"/>
<circle cx="878.4" cy="231.1" r="0.78" fill="#fff"/>
<circle cx="885.6" cy="231.1" r="2.6" fill="#e8242a"/>
<circle cx="885.6" cy="231.1" r="0.78" fill="#fff"/>
<rect x="783.9" y="93.4" width="41.5" height="53.7" rx="1.6" fill="#fff" stroke="#dde1e7" stroke-width="0.7" filter="url(#cs)"/>
<path d="M783.9 144.1H825.4V145.9Q825.4 147.1 824.2 147.1H785.1Q783.9 147.1 783.9 145.9Z" fill="#fb1212"/>
<text x="804.65" y="98.2" font-size="3.7" fill="#333" text-anchor="middle" font-weight="normal" >Membership Page</text>
<path d="M784.4 99.6H824.9" stroke="#eceff3" stroke-width="0.4"/>
<text x="785.3" y="152.5" font-size="3.8" fill="#90949a" text-anchor="start" font-weight="normal" >Default theme</text>
<rect x="785.9" y="102" width="6.1" height="0.8" rx="0.4" fill="#444"/>
<rect x="815.5" y="102" width="7.8" height="0.8" rx="0.4" fill="#3d7bf5"/>
<rect x="785.9" y="105.9" width="37.4" height="8.8" rx="0" fill="#4a80f2" />
<rect x="790.5" y="108.9" width="11.5" height="1" rx="0.5" fill="#dce7fd"/>
<rect x="792" y="111.25" width="8" height="0.7" rx="0.35" fill="#b9cffb"/>
<path d="M809.4 112.6 L811.9 108.6 L813.4 110.6 L814.6 109.4 L816.6 112.6 Z" fill="#fff"/><circle cx="815.6" cy="108" r="0.8" fill="#fff"/>
<rect x="785.9" y="117.2" width="19.4" height="11.1" rx="0" fill="#3a3a3a" />
<path d="M794.4 120.8 V124.8 L797.4 122.8 Z" fill="#fff"/>
<rect x="785.9" y="130.15" width="18.6" height="0.5" rx="0.25" fill="#d8dade"/>
<rect x="785.9" y="131.85" width="18.6" height="0.5" rx="0.25" fill="#d8dade"/>
<rect x="785.9" y="133.55" width="18.6" height="0.5" rx="0.25" fill="#d8dade"/>
<rect x="785.9" y="136.05" width="9.8" height="1.1" rx="0.55" fill="#3dbfae"/>
<rect x="807.3" y="116.5" width="16" height="21.3" rx="0" fill="#f1f2f4" />
<rect x="809" y="118.4" width="9" height="1" rx="0.5" fill="#333"/>
<rect x="808.6" y="121.1" width="1.8" height="2.6" rx="0" fill="#555" />
<rect x="811.6" y="121.45" width="5.4" height="0.7" rx="0.35" fill="#555"/>
<rect x="811.6" y="123.08" width="9.9" height="0.45" rx="0.23" fill="#c3c6cb"/>
<rect x="808.6" y="125.9" width="1.8" height="2.6" rx="0" fill="#555" />
<rect x="811.6" y="126.25" width="5.4" height="0.7" rx="0.35" fill="#555"/>
<rect x="811.6" y="127.88" width="9.9" height="0.45" rx="0.23" fill="#c3c6cb"/>
<rect x="808.6" y="130.7" width="1.8" height="2.6" rx="0" fill="#555" />
<rect x="811.6" y="131.05" width="5.4" height="0.7" rx="0.35" fill="#555"/>
<rect x="811.6" y="132.68" width="9.9" height="0.45" rx="0.23" fill="#c3c6cb"/>
<rect x="784.6" y="186.9" width="41" height="53.4" rx="1.6" fill="#fff" stroke="#dde1e7" stroke-width="0.7" filter="url(#cs)"/>
<path d="M784.6 237.3H825.6V239.1Q825.6 240.3 824.4 240.3H785.8Q784.6 240.3 784.6 239.1Z" fill="#a127f2"/>
<text x="805.1" y="191.7" font-size="3.7" fill="#333" text-anchor="middle" font-weight="normal" >UpSell Page</text>
<path d="M785.1 193.1H825.1" stroke="#eceff3" stroke-width="0.4"/>
<text x="786" y="245.7" font-size="3.8" fill="#90949a" text-anchor="start" font-weight="normal" >Default theme</text>
<rect x="787" y="195.55" width="5.5" height="0.9" rx="0.45" fill="#222"/>
<rect x="787" y="202.75" width="32.8" height="1.3" rx="0.65" fill="#111"/>
<rect x="792" y="205.45" width="26" height="0.5" rx="0.25" fill="#d0d3d7"/>
<rect x="795" y="207.25" width="20" height="0.5" rx="0.25" fill="#d8dade"/>
<rect x="789.3" y="211.5" width="31.6" height="12.4" rx="1" fill="#ececee" stroke="#ececee" stroke-width="0.4"/>
<path d="M799.17 221.83L802.37 215.28L805.1 219.55L807.24 217.56L811.03 221.83Z" fill="#35b3a0" stroke="#35b3a0" stroke-width="0.5" stroke-linejoin="round"/>
<circle cx="808.66" cy="214.85" r="1.36" fill="#f8a927"/>
<rect x="795.2" y="225.5" width="20.6" height="2.4" rx="1.2" fill="#3d7bf5" />
<rect x="790" y="274.3" width="31.6" height="18.3" rx="1.6" fill="#fff" stroke="#e6eaf0" stroke-width="0.6" filter="url(#cs)"/>
<path d="M790 289.6H821.6V291.4Q821.6 292.6 820.4 292.6H791.2Q790 292.6 790 291.4Z" fill="#a127f2"/>
<text x="805.95" y="282.23" font-size="3.85" fill="#2d3344" text-anchor="middle" font-weight="bold" letter-spacing="0.3">CHECKOUT</text>
<rect x="273.3" y="284.6" width="13.5" height="14.5" rx="2" fill="#f9fbfc" stroke="#e3e7ec" stroke-width="0.6" filter="url(#cs)"/>
<rect x="273.3" y="303.9" width="13.5" height="13.5" rx="2" fill="#f9fbfc" stroke="#e3e7ec" stroke-width="0.6" filter="url(#cs)"/>
<rect x="273.3" y="322.2" width="13.5" height="14.1" rx="2" fill="#f9fbfc" stroke="#e3e7ec" stroke-width="0.6" filter="url(#cs)"/>
<rect x="273.3" y="340.5" width="13.5" height="14.1" rx="2" fill="#f9fbfc" stroke="#e3e7ec" stroke-width="0.6" filter="url(#cs)"/>
<rect x="273.3" y="359.2" width="13.5" height="14.5" rx="2" fill="#f9fbfc" stroke="#e3e7ec" stroke-width="0.6" filter="url(#cs)"/>
<path d="M280.1 295.2 V290.6 M277.7 292 L280.1 289.3 L282.5 292 Z" fill="#111" stroke="#111" stroke-width="1.1" stroke-linejoin="round"/>
<path d="M276.6 294.6 V295.9 H283.6 V294.6" fill="none" stroke="#111" stroke-width="1.3" stroke-linejoin="round"/>
<circle cx="279" cy="310.7" r="2.0" fill="none" stroke="#111" stroke-width="1.3"/>
<circle cx="279" cy="310.7" r="2.9" fill="none" stroke="#111" stroke-width="0.9" stroke-dasharray="1.0 0.82"/>
<circle cx="283.4" cy="308.2" r="0.95" fill="none" stroke="#111" stroke-width="0.75"/>
<circle cx="283.4" cy="313.2" r="0.95" fill="none" stroke="#111" stroke-width="0.75"/>
<path d="M277 326.5 H283.8 L281.1 329.6 V332.6 L279.7 331.6 V329.6 Z" fill="#111" stroke="#111" stroke-width="0.6" stroke-linejoin="round"/>
<path d="M279.6 344 A3.7 3.7 0 1 0 283 350 L279.6 347.8 Z" fill="#111"/>
<path d="M280.6 343.6 A3.7 3.7 0 0 1 284.2 346.9 H280.6 Z" fill="#111"/>
<path d="M281.1 347.8 H284.2 A3.7 3.7 0 0 1 283.6 349.5 Z" fill="#111"/>
<path d="M276.7 366.5 H283.2 M280.4 363.5 L283.5 366.5 L280.4 369.5" fill="none" stroke="#111" stroke-width="1.3" stroke-linecap="round" stroke-linejoin="round"/>
<rect x="549.7" y="348.2" width="154.5" height="27.3" rx="2.5" fill="#f8fafc" stroke="#eef1f4" stroke-width="0.4" filter="url(#cs)"/>
<rect x="552" y="350.3" width="15" height="23.2" rx="2" fill="#e1e1e1" />
<rect x="627" y="350.3" width="15" height="23.2" rx="2" fill="#e1e1e1" />
<rect x="556.8" y="361.25" width="5.4" height="1.5" rx="0.75" fill="#111"/>
<rect x="631.8" y="361.25" width="5.4" height="1.5" rx="0.75" fill="#111"/>
<rect x="633.75" y="359.3" width="1.5" height="5.4" rx="0.6" fill="#111"/>
<text x="598.2" y="357.4" font-size="6.6" fill="#444" text-anchor="middle" font-weight="normal" >55%</text>
<rect x="567" y="366.05" width="60" height="0.9" rx="0.45" fill="#e3d2c9"/>
<rect x="586.3" y="361.8" width="5.3" height="9.8" rx="1.2" fill="#efefef" stroke="#bdb3ae" stroke-width="0.6"/>
<rect x="588.1" y="365.3" width="1.7" height="2.4" rx="1.2" fill="#d9cfca"/>
<rect x="648.7" y="350" width="23.3" height="23.5" rx="2.2" fill="#a834ff" />
<rect x="679" y="350" width="23.3" height="23.5" rx="2.2" fill="#ff2200" />
<rect x="848.5" y="359.8" width="55.6" height="13.7" rx="2" fill="#f8fafc" stroke="#eceff3" stroke-width="0.4" filter="url(#cs)"/>
<text x="876.5" y="368.4" font-size="5.2" fill="#333" text-anchor="middle" font-weight="normal" textLength="29" lengthAdjust="spacingAndGlyphs" >Quick Links</text>
</g>
<circle cx="231.2" cy="96" r="1.42" fill="#5b1647"/>
<circle cx="235.4" cy="98.3" r="1.42" fill="#5b1647"/>
<circle cx="239.7" cy="100.2" r="1.42" fill="#5b1647"/>
<circle cx="244.3" cy="101.8" r="1.42" fill="#5b1647"/>
<circle cx="248.6" cy="102.7" r="1.42" fill="#5b1647"/>
<circle cx="253.3" cy="103.2" r="1.42" fill="#5b1647"/>
<circle cx="257.9" cy="103.4" r="1.42" fill="#581648"/>
<circle cx="262.5" cy="103.1" r="1.42" fill="#52154a"/>
<circle cx="266.9" cy="102" r="1.42" fill="#49134c"/>
<circle cx="271.2" cy="99.9" r="1.42" fill="#3f124f"/>
<circle cx="274.2" cy="96.6" r="1.42" fill="#341052"/>
<circle cx="276.6" cy="92.6" r="1.42" fill="#290f55"/>
<circle cx="278.8" cy="88.2" r="1.42" fill="#200e57"/>
<circle cx="281" cy="84.2" r="1.42" fill="#190d59"/>
<circle cx="283.7" cy="80.4" r="1.42" fill="#150c5a"/>
<circle cx="287.1" cy="77.3" r="1.42" fill="#150c5a"/>
<circle cx="291.1" cy="75.1" r="1.42" fill="#150c5a"/>
<circle cx="295.5" cy="73.7" r="1.42" fill="#150c5a"/>
<circle cx="299.9" cy="72.7" r="1.42" fill="#150c5a"/>
<circle cx="304.5" cy="72.4" r="1.42" fill="#150c5a"/>
<circle cx="309.1" cy="72.7" r="1.42" fill="#150c5a"/>
<circle cx="313.6" cy="73.7" r="1.42" fill="#150c5a"/>
<circle cx="318.1" cy="75.1" r="1.42" fill="#150c5a"/>
<circle cx="322.1" cy="77.5" r="1.42" fill="#150c5a"/>
<circle cx="326.3" cy="80.6" r="1.42" fill="#150c5a"/>
<path d="M238 88.3 L225.1 91.1 L228.2 103.5" fill="none" stroke="#5b1647" stroke-width="2.6" stroke-linejoin="miter"/>
<circle cx="190.7" cy="234.3" r="1.62" fill="#5b1647"/>
<circle cx="192.5" cy="228.6" r="1.62" fill="#5b1647"/>
<circle cx="195" cy="223" r="1.62" fill="#5b1647"/>
<circle cx="198" cy="217.9" r="1.62" fill="#5b1647"/>
<circle cx="201.3" cy="212.9" r="1.62" fill="#5b1647"/>
<circle cx="205.1" cy="208.3" r="1.62" fill="#5b1647"/>
<circle cx="209.2" cy="203.9" r="1.62" fill="#5b1647"/>
<circle cx="213.7" cy="200" r="1.62" fill="#5b1647"/>
<circle cx="218.4" cy="196.2" r="1.62" fill="#5b1647"/>
<circle cx="223.5" cy="192.9" r="1.62" fill="#5b1647"/>
<circle cx="228.8" cy="190.2" r="1.62" fill="#5b1647"/>
<circle cx="234.4" cy="187.8" r="1.62" fill="#5b1647"/>
<circle cx="240.1" cy="185.8" r="1.62" fill="#5b1647"/>
<circle cx="245.8" cy="184.1" r="1.62" fill="#5b1647"/>
<circle cx="251.7" cy="182.9" r="1.62" fill="#5b1647"/>
<circle cx="257.6" cy="182" r="1.62" fill="#571548"/>
<circle cx="263.4" cy="181.4" r="1.62" fill="#51154a"/>
<circle cx="269.5" cy="181.3" r="1.62" fill="#4a144c"/>
<circle cx="275.5" cy="181.4" r="1.62" fill="#41124e"/>
<circle cx="281.5" cy="181.9" r="1.62" fill="#371151"/>
<circle cx="287.4" cy="182.5" r="1.62" fill="#2d0f53"/>
<circle cx="293.3" cy="183.2" r="1.62" fill="#250e56"/>
<circle cx="299.3" cy="184.3" r="1.62" fill="#1d0d58"/>
<circle cx="305.2" cy="185.3" r="1.62" fill="#180c59"/>
<circle cx="310.9" cy="186.9" r="1.62" fill="#150c5a"/>
<circle cx="317" cy="188.4" r="1.62" fill="#150c5a"/>
<circle cx="322.5" cy="190.2" r="1.62" fill="#150c5a"/>
<circle cx="328.3" cy="192.1" r="1.62" fill="#150c5a"/>
<path d="M183.4 225.8 L186.2 241.8 L202.8 238.2" fill="none" stroke="#4d1346" stroke-width="2.9" stroke-linejoin="miter"/>
<circle cx="452.49" cy="205.35" r="1.6" fill="#61194b"/>
<circle cx="449.68" cy="210.2" r="1.59" fill="#61194b"/>
<circle cx="446.86" cy="215.05" r="1.59" fill="#61194b"/>
<circle cx="444.05" cy="219.89" r="1.58" fill="#61194b"/>
<circle cx="441.24" cy="224.74" r="1.58" fill="#61194b"/>
<circle cx="438.43" cy="229.59" r="1.57" fill="#61194b"/>
<circle cx="435.62" cy="234.44" r="1.56" fill="#61194b"/>
<circle cx="432.8" cy="239.29" r="1.56" fill="#61194b"/>
<circle cx="429.99" cy="244.14" r="1.55" fill="#61194b"/>
<circle cx="427.18" cy="248.98" r="1.54" fill="#61194b"/>
<circle cx="424.37" cy="253.83" r="1.54" fill="#61194b"/>
<circle cx="421.55" cy="258.68" r="1.53" fill="#61194b"/>
<circle cx="418.74" cy="263.53" r="1.53" fill="#61194b"/>
<circle cx="415.93" cy="268.38" r="1.52" fill="#61194b"/>
<circle cx="413.12" cy="273.23" r="1.51" fill="#61194b"/>
<circle cx="410.31" cy="278.08" r="1.51" fill="#61194b"/>
<circle cx="407.49" cy="282.92" r="1.5" fill="#61194b"/>
<circle cx="404.68" cy="287.77" r="1.5" fill="#61194b"/>
<circle cx="401.87" cy="292.62" r="1.49" fill="#61194b"/>
<circle cx="399.06" cy="297.47" r="1.48" fill="#61194b"/>
<circle cx="396.25" cy="302.32" r="1.48" fill="#61194b"/>
<circle cx="393.43" cy="307.17" r="1.47" fill="#61194b"/>
<circle cx="390.62" cy="312.02" r="1.46" fill="#61194b"/>
<circle cx="387.81" cy="316.86" r="1.46" fill="#61194b"/>
<circle cx="385" cy="321.71" r="1.45" fill="#61194b"/>
<circle cx="382.18" cy="326.56" r="1.45" fill="#61194b"/>
<circle cx="379.37" cy="331.41" r="1.44" fill="#61194b"/>
<circle cx="376.56" cy="336.26" r="1.43" fill="#61194b"/>
<circle cx="373.75" cy="341.11" r="1.43" fill="#61194b"/>
<circle cx="370.94" cy="345.95" r="1.42" fill="#61194b"/>
<circle cx="368.12" cy="350.8" r="1.42" fill="#61194b"/>
<circle cx="365.31" cy="355.65" r="1.41" fill="#61194b"/>
<circle cx="362.5" cy="360.5" r="1.4" fill="#60194b"/>
<circle cx="359.69" cy="365.35" r="1.4" fill="#5e194c"/>
<circle cx="356.88" cy="370.2" r="1.39" fill="#5b184d"/>
<circle cx="354.06" cy="375.05" r="1.38" fill="#57174e"/>
<circle cx="351.25" cy="379.89" r="1.38" fill="#51174f"/>
<circle cx="348.44" cy="384.74" r="1.37" fill="#4b1651"/>
<circle cx="345.63" cy="389.59" r="1.37" fill="#451553" opacity="0.62"/>
<circle cx="342.82" cy="394.44" r="1.36" fill="#3e1454" opacity="0.62"/>
<circle cx="340" cy="399.29" r="1.35" fill="#371256" opacity="0.62"/>
<circle cx="337.19" cy="404.14" r="1.35" fill="#311158" opacity="0.62"/>
<circle cx="334.38" cy="408.98" r="1.34" fill="#2b105a" opacity="0.62"/>
<circle cx="331.57" cy="413.83" r="1.34" fill="#25105b" opacity="0.62"/>
<circle cx="328.75" cy="418.68" r="1.33" fill="#210f5c" opacity="0.62"/>
<circle cx="325.94" cy="423.53" r="1.32" fill="#1e0e5d" opacity="0.62"/>
<circle cx="323.13" cy="428.38" r="1.32" fill="#1c0e5e" opacity="0.62"/>
<circle cx="320.32" cy="433.23" r="1.31" fill="#1b0e5e" opacity="0.62"/>
<circle cx="317.51" cy="438.08" r="1.3" fill="#1b0e5e" opacity="0.62"/>
<circle cx="314.69" cy="442.92" r="1.3" fill="#1b0e5e" opacity="0.62"/>
<circle cx="311.88" cy="447.77" r="1.29" fill="#1b0e5e" opacity="0.62"/>
<circle cx="309.07" cy="452.62" r="1.29" fill="#1b0e5e" opacity="0.62"/>
<circle cx="306.26" cy="457.47" r="1.28" fill="#1b0e5e" opacity="0.62"/>
<circle cx="303.45" cy="462.32" r="1.27" fill="#1b0e5e" opacity="0.62"/>
<circle cx="300.63" cy="467.17" r="1.27" fill="#1b0e5e" opacity="0.62"/>
<circle cx="297.82" cy="472.02" r="1.26" fill="#1b0e5e" opacity="0.62"/>
<circle cx="295.01" cy="476.86" r="1.26" fill="#1b0e5e"/>
<circle cx="292.2" cy="481.71" r="1.25" fill="#1b0e5e"/>
<circle cx="289.38" cy="486.56" r="1.24" fill="#1b0e5e"/>
<circle cx="286.57" cy="491.41" r="1.24" fill="#1b0e5e"/>
<circle cx="283.76" cy="496.26" r="1.23" fill="#1b0e5e"/>
<circle cx="280.95" cy="501.11" r="1.22" fill="#1b0e5e"/>
<circle cx="278.14" cy="505.95" r="1.22" fill="#1b0e5e"/>
<circle cx="275.32" cy="510.8" r="1.21" fill="#1b0e5e"/>
<circle cx="272.51" cy="515.65" r="1.21" fill="#1b0e5e"/>
<circle cx="269.7" cy="520.5" r="1.2" fill="#1b0e5e"/>
<circle cx="455.3" cy="200.5" r="1.4" fill="#d9c9d6"/>
<path d="M262 512.3 L265.6 527 L280.9 521.7" fill="none" stroke="#170c58" stroke-width="2.8" stroke-linejoin="miter"/>
<circle cx="668.8" cy="162" r="1.48" fill="#651a49"/>
<circle cx="673.4" cy="163.24" r="1.48" fill="#651a49"/>
<circle cx="678.01" cy="164.48" r="1.48" fill="#651a49"/>
<circle cx="682.61" cy="165.72" r="1.48" fill="#651a49"/>
<circle cx="687.22" cy="166.96" r="1.48" fill="#651a49"/>
<circle cx="691.82" cy="168.2" r="1.48" fill="#651a49"/>
<circle cx="696.43" cy="169.44" r="1.48" fill="#651a49"/>
<circle cx="701.03" cy="170.68" r="1.48" fill="#651a49"/>
<circle cx="705.64" cy="171.93" r="1.48" fill="#651a49"/>
<circle cx="710.24" cy="173.17" r="1.48" fill="#651a49"/>
<circle cx="714.85" cy="174.41" r="1.48" fill="#651a49"/>
<circle cx="719.45" cy="175.65" r="1.48" fill="#651a49"/>
<circle cx="724.06" cy="176.89" r="1.48" fill="#651a49"/>
<circle cx="728.66" cy="178.13" r="1.48" fill="#651a49"/>
<circle cx="733.27" cy="179.37" r="1.48" fill="#651a49"/>
<circle cx="737.87" cy="180.61" r="1.48" fill="#651a49"/>
<circle cx="742.47" cy="181.85" r="1.48" fill="#651a49"/>
<circle cx="747.08" cy="183.09" r="1.48" fill="#651a49"/>
<circle cx="751.68" cy="184.33" r="1.48" fill="#651a49"/>
<circle cx="756.29" cy="185.57" r="1.48" fill="#641a49"/>
<circle cx="760.89" cy="186.81" r="1.48" fill="#631a49"/>
<circle cx="765.5" cy="188.05" r="1.48" fill="#60194a"/>
<circle cx="770.1" cy="189.29" r="1.48" fill="#5d194a"/>
<circle cx="774.71" cy="190.53" r="1.48" fill="#59184b"/>
<circle cx="779.31" cy="191.78" r="1.48" fill="#54174b"/>
<circle cx="783.92" cy="193.02" r="1.48" fill="#4f164c"/>
<circle cx="788.52" cy="194.26" r="1.48" fill="#49154d"/>
<circle cx="793.13" cy="195.5" r="1.48" fill="#43144e"/>
<circle cx="797.73" cy="196.74" r="1.48" fill="#3d134e"/>
<circle cx="802.34" cy="197.98" r="1.48" fill="#37124f"/>
<circle cx="806.94" cy="199.22" r="1.48" fill="#311150"/>
<circle cx="811.55" cy="200.46" r="1.48" fill="#2b1051"/>
<circle cx="816.15" cy="201.7" r="1.48" fill="#250f52"/>
<circle cx="820.75" cy="202.94" r="1.48" fill="#1f0e52"/>
<circle cx="825.36" cy="204.18" r="1.48" fill="#1a0d53"/>
<circle cx="829.96" cy="205.42" r="1.48" fill="#160c54"/>
<circle cx="834.57" cy="206.66" r="1.48" fill="#120b54"/>
<circle cx="839.17" cy="207.9" r="1.48" fill="#0f0b54"/>
<circle cx="843.78" cy="209.14" r="1.48" fill="#0d0a55"/>
<circle cx="848.38" cy="210.38" r="1.48" fill="#0b0a55"/>
<circle cx="852.99" cy="211.62" r="1.48" fill="#0b0a55"/>
<circle cx="857.59" cy="212.87" r="1.48" fill="#0b0a55"/>
<circle cx="862.2" cy="214.11" r="1.48" fill="#0b0a55"/>
<circle cx="866.8" cy="215.35" r="1.48" fill="#0b0a55"/>
<circle cx="871.41" cy="216.59" r="1.48" fill="#0b0a55"/>
<circle cx="876.01" cy="217.83" r="1.48" fill="#0b0a55"/>
<circle cx="880.62" cy="219.07" r="1.48" fill="#0b0a55"/>
<circle cx="885.22" cy="220.31" r="1.48" fill="#0b0a55"/>
<circle cx="889.83" cy="221.55" r="1.48" fill="#0b0a55"/>
<circle cx="894.43" cy="222.79" r="1.48" fill="#0b0a55"/>
<circle cx="899.03" cy="224.03" r="1.48" fill="#0b0a55"/>
<circle cx="903.64" cy="225.27" r="1.48" fill="#0b0a55"/>
<circle cx="908.24" cy="226.51" r="1.48" fill="#0b0a55"/>
<circle cx="912.85" cy="227.75" r="1.48" fill="#0b0a55"/>
<circle cx="917.45" cy="228.99" r="1.48" fill="#0b0a55"/>
<circle cx="922.06" cy="230.23" r="1.48" fill="#0b0a55"/>
<circle cx="926.66" cy="231.48" r="1.48" fill="#0b0a55"/>
<circle cx="931.27" cy="232.72" r="1.48" fill="#0b0a55"/>
<circle cx="935.87" cy="233.96" r="1.48" fill="#0b0a55"/>
<circle cx="940.48" cy="235.2" r="1.48" fill="#0b0a55"/>
<circle cx="945.08" cy="236.44" r="1.48" fill="#0b0a55"/>
<circle cx="949.69" cy="237.68" r="1.48" fill="#0b0a55"/>
<circle cx="954.29" cy="238.92" r="1.48" fill="#0b0a55"/>
<circle cx="958.9" cy="240.16" r="1.48" fill="#0b0a55"/>
<circle cx="963.5" cy="241.4" r="1.48" fill="#0b0a55"/>
<circle cx="664.4" cy="160.7" r="1.2" fill="#d8c8d3"/>
<path d="M961.8 232 L969 242.6 L958.3 249.6" fill="none" stroke="#0d0a55" stroke-width="2.8" stroke-linejoin="miter"/>
<text x="5.4" y="77" font-size="24" fill="#9a9a9a" text-anchor="start" font-weight="normal" textLength="178.2" lengthAdjust="spacingAndGlyphs" >See what devices</text>
<text x="6.2" y="105.2" font-size="24" fill="#9a9a9a" text-anchor="start" font-weight="normal" textLength="201" lengthAdjust="spacingAndGlyphs" >your customers are</text>
<text x="5.4" y="133.7" font-size="24" fill="#9a9a9a" text-anchor="start" font-weight="normal" textLength="178" lengthAdjust="spacingAndGlyphs" >using &amp; how they</text>
<text x="11.5" y="272.7" font-size="24" fill="#9a9a9a" text-anchor="start" font-weight="normal" textLength="185.4" lengthAdjust="spacingAndGlyphs" >Conduct A/B Split</text>
<text x="12.4" y="301.5" font-size="24" fill="#9a9a9a" text-anchor="start" font-weight="normal" textLength="176.1" lengthAdjust="spacingAndGlyphs" >Test Conversions</text>
<text x="189.4" y="563.1" font-size="24" fill="#9a9a9a" text-anchor="start" font-weight="normal" textLength="179.6" lengthAdjust="spacingAndGlyphs" >Track Number Of</text>
<text x="189.2" y="592" font-size="24" fill="#9a9a9a" text-anchor="start" font-weight="normal" textLength="136.2" lengthAdjust="spacingAndGlyphs" >Page Visitors</text>
<text x="987.5" y="249.7" font-size="24" fill="#9a9a9a" text-anchor="start" font-weight="normal" textLength="206.8" lengthAdjust="spacingAndGlyphs" >Analyze Conversion</text>
<text x="987.2" y="278.4" font-size="24" fill="#9a9a9a" text-anchor="start" font-weight="normal" textLength="206.6" lengthAdjust="spacingAndGlyphs" >Rates At Each Stage</text>
<text x="987" y="307.1" font-size="24" fill="#9a9a9a" text-anchor="start" font-weight="normal" textLength="155.4" lengthAdjust="spacingAndGlyphs" >Of The Funnel!</text>
</svg></body></html>
